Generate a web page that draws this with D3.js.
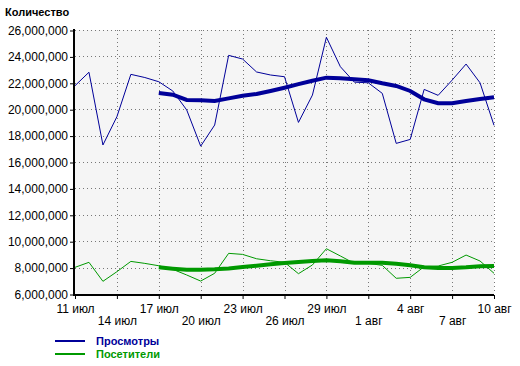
<!DOCTYPE html>
<html>
<head>
<meta charset="utf-8">
<script src="https://cdn.jsdelivr.net/npm/d3@7"></script>
<style>
  body { margin: 0; background: #fff; }
  text { font-family: "Liberation Sans", Arial, sans-serif; }
</style>
</head>
<body>
<div id="chart"></div>
<script>
var days = ["11 июл","12 июл","13 июл","14 июл","15 июл","16 июл","17 июл","18 июл","19 июл","20 июл",
            "21 июл","22 июл","23 июл","24 июл","25 июл","26 июл","27 июл","28 июл","29 июл","30 июл",
            "31 июл","1 авг","2 авг","3 авг","4 авг","5 авг","6 авг","7 авг","8 авг","9 авг","10 авг"];

// millions
var views = [21.78, 22.8, 17.29, 19.43, 22.64, 22.4, 22.08, 21.38, 19.94, 17.2,
             18.8, 24.08, 23.8, 22.82, 22.59, 22.46, 19.0, 21.07, 25.45, 23.22,
             22.05, 22.0, 21.2, 17.41, 17.71, 21.5, 21.05, 22.2, 23.42, 22.0, 18.78];
var viewsTrend = [null, null, null, null, null, null,
                  21.22, 21.1, 20.7, 20.67, 20.62, 20.82, 21.02, 21.15, 21.38, 21.63,
                  21.9, 22.16, 22.39, 22.34, 22.26, 22.19, 21.96, 21.76, 21.38, 20.75,
                  20.45, 20.45, 20.62, 20.77, 20.9];
var visitors = [8.02, 8.4, 6.96, 7.69, 8.47, 8.32, 8.14, 7.87, 7.44, 6.98,
                7.57, 9.08, 9.0, 8.67, 8.52, 8.4, 7.54, 8.2, 9.43, 8.88,
                8.32, 8.32, 8.17, 7.19, 7.26, 8.07, 8.12, 8.4, 8.95, 8.5, 7.57];
var visitorsTrend = [null, null, null, null, null, null,
                     8.02, 7.92, 7.84, 7.84, 7.87, 7.94, 8.04, 8.14, 8.25, 8.35,
                     8.42, 8.5, 8.55, 8.48, 8.37, 8.37, 8.37, 8.29, 8.17, 8.02,
                     7.97, 7.97, 8.02, 8.1, 8.12];

var seriesNames = ["Просмотры", "Посетители"];
var colors = ["#000099", "#009900"];

var fullwidth = 520, fullheight = 366;
var plot = {left: 75, right: 494, top: 30, bottom: 294};

var svg = d3.select("#chart").append("svg")
    .attr("width", fullwidth)
    .attr("height", fullheight);

var x = d3.scalePoint().domain(d3.range(days.length)).range([plot.left, plot.right]);
var y = d3.scaleLinear().domain([6e6, 26e6]).range([plot.bottom, plot.top]);

svg.append("rect")
    .attr("x", plot.left).attr("y", plot.top)
    .attr("width", plot.right - plot.left).attr("height", plot.bottom - plot.top)
    .attr("fill", "#f5f5f5");

var tickIdx = d3.range(0, days.length, 3);

// grid
svg.append("g").selectAll("line")
    .data(y.ticks(10))
    .enter().append("line")
    .attr("x1", plot.left).attr("x2", plot.right)
    .attr("y1", function(d) { return Math.round(y(d)) + 0.5; })
    .attr("y2", function(d) { return Math.round(y(d)) + 0.5; })
    .attr("stroke", "#777")
    .attr("stroke-dasharray", "1,3");

svg.append("g").selectAll("line")
    .data(tickIdx.slice(1))
    .enter().append("line")
    .attr("x1", function(d) { return Math.round(x(d)) + 0.5; })
    .attr("x2", function(d) { return Math.round(x(d)) + 0.5; })
    .attr("y1", plot.top).attr("y2", plot.bottom)
    .attr("stroke", "#777")
    .attr("stroke-dasharray", "1,3");

// lines
function drawLine(data, color, w) {
    var line = d3.line()
        .defined(function(d) { return d != null; })
        .x(function(d, i) { return x(i); })
        .y(function(d) { return y(d * 1e6); });
    svg.append("path")
        .datum(data)
        .attr("fill", "none")
        .attr("stroke", color)
        .attr("stroke-width", w)
        .attr("d", line);
}
drawLine(views, colors[0], 1);
drawLine(visitors, colors[1], 1);
drawLine(viewsTrend, colors[0], 4);
drawLine(visitorsTrend, colors[1], 4);

// axes
var yAxis = svg.append("g")
    .attr("transform", "translate(" + (plot.left - 1) + ",0.5)")
    .call(d3.axisLeft(y).ticks(10).tickFormat(d3.format(",")).tickSize(4).tickPadding(2));
yAxis.select(".domain").remove();
yAxis.selectAll("text").attr("font-size", 12).attr("fill", "#000").attr("font-family", null);

svg.append("line")
    .attr("x1", plot.left - 1).attr("x2", plot.left - 1)
    .attr("y1", plot.top - 1).attr("y2", plot.bottom + 1)
    .attr("stroke", "#000").attr("stroke-width", 2);

var xAxis = svg.append("g")
    .attr("transform", "translate(0," + (plot.bottom + 1) + ")")
    .call(d3.axisBottom(x).tickValues(tickIdx)
        .tickFormat(function(d) { return days[d]; })
        .tickSize(4).tickPadding(3));
xAxis.select(".domain").remove();
xAxis.selectAll("text")
    .attr("font-size", 12).attr("fill", "#000").attr("font-family", null)
    .attr("dy", function(d, i) { return i % 2 ? "1.95em" : "0.95em"; });

svg.append("line")
    .attr("x1", plot.left - 2).attr("x2", plot.right)
    .attr("y1", plot.bottom + 1).attr("y2", plot.bottom + 1)
    .attr("stroke", "#000").attr("stroke-width", 2);

// title
svg.append("text")
    .attr("x", 5).attr("y", 16)
    .attr("font-family", "DejaVu Sans")
    .attr("font-size", 11).attr("font-weight", "bold")
    .text("Количество");

// legend
var legend = svg.append("g").selectAll("g")
    .data(seriesNames)
    .enter().append("g")
    .attr("transform", function(d, i) { return "translate(55," + (341 + i * 13) + ")"; });
legend.append("line")
    .attr("x1", 0).attr("x2", 30)
    .attr("stroke", function(d, i) { return colors[i]; })
    .attr("stroke-width", 2);
legend.append("text")
    .attr("x", 41).attr("y", 4)
    .attr("font-family", "DejaVu Sans")
    .attr("font-size", 11).attr("font-weight", "bold")
    .attr("fill", function(d, i) { return colors[i]; })
    .text(function(d) { return d; });
</script>
</body>
</html>
